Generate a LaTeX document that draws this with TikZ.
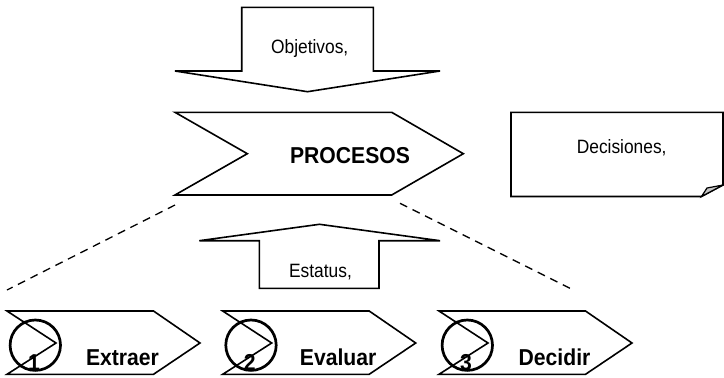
\documentclass[tikz,border=0pt]{standalone}
\usepackage{fontspec}
\setmainfont{Liberation Sans}
\newfontfamily\narrowfont[FakeStretch=0.9]{Liberation Sans}
\newfontfamily\narrowbold[FakeStretch=0.92]{Liberation Sans Bold}
\begin{document}
\begin{tikzpicture}[x=1pt,y=-1pt,
  shapeline/.style={draw=black,line width=1.6pt,line join=miter,fill=white},
  ring/.style={draw=black,line width=2.7pt},
  dashline/.style={draw=black,line width=1.3pt,dash pattern=on 8pt off 6pt},
  smalltxt/.style={font=\narrowfont\fontsize{19.3}{21}\selectfont,anchor=base,inner sep=0pt},
  bigtxt/.style={font=\narrowbold\fontsize{23}{25}\selectfont,anchor=base,inner sep=0pt},
  numtxt/.style={font=\narrowbold\fontsize{23}{25}\selectfont,anchor=base,inner sep=0pt}]
\useasboundingbox (0,0) rectangle (724,378);

% Objetivos arrow (down)
\draw[shapeline] (241.7,7.3) -- (373.3,7.3) -- (373.3,71) -- (440,71) -- (307.5,91.7)
  -- (175,71) -- (241.7,71) -- cycle;
\node[smalltxt] (obj) at (309.7,53.3) {Objetivos,};

% PROCESOS chevron
\draw[shapeline] (175,112.3) -- (391.7,112.3) -- (463.3,153.7) -- (391.7,195)
  -- (175,195) -- (247.3,153.7) -- cycle;
\node[bigtxt] (proc) at (350,163.3) {PROCESOS};

% Decisiones note
\draw[shapeline] (511,112.3) -- (723,112.3) -- (723,185) -- (701.5,196.5) -- (511,196.5) -- cycle;
\draw[draw=black,line width=1.2pt,fill=gray!45,line join=miter] (723,185) -- (701.5,196.5) -- (707,188) -- cycle;
\node[smalltxt] (dec) at (621.7,153.3) {Decisiones,};

% Estatus arrow (up)
\draw[shapeline] (199.3,240.7) -- (319.5,224.3) -- (440,240.7) -- (379,240.7)
  -- (379,288.3) -- (259.3,288.3) -- (259.3,240.7) -- cycle;
\node[smalltxt] (est) at (320.5,277.3) {Estatus,};

% dashed lines
\coordinate (dl1) at (175,205);
\coordinate (dl2) at (7,290);
\coordinate (dr1) at (400,203.3);
\coordinate (dr2) at (570,288.3);
\draw[dashline] (dl1) -- (dl2);
\draw[dashline] (dr1) -- (dr2);

% bottom chevrons
\foreach \L/\num/\lab [count=\i] in {7/1/Extraer, 222.7/2/Evaluar, 439/3/Decidir}{
  \draw[shapeline] (\L,311) -- (\L+146.5,311) -- (\L+193,343) -- (\L+146.5,374.3)
    -- (\L,374.3) -- (\L+49,343) -- cycle;
  \draw[ring] (\L+28.3,345.2) circle (25.2);
  \node[numtxt] (n\i) at (\L+27,370) {\num};
  \node[bigtxt] (lab\i) at (\L+115.5,365) {\lab};
}
\end{tikzpicture}
\end{document}
